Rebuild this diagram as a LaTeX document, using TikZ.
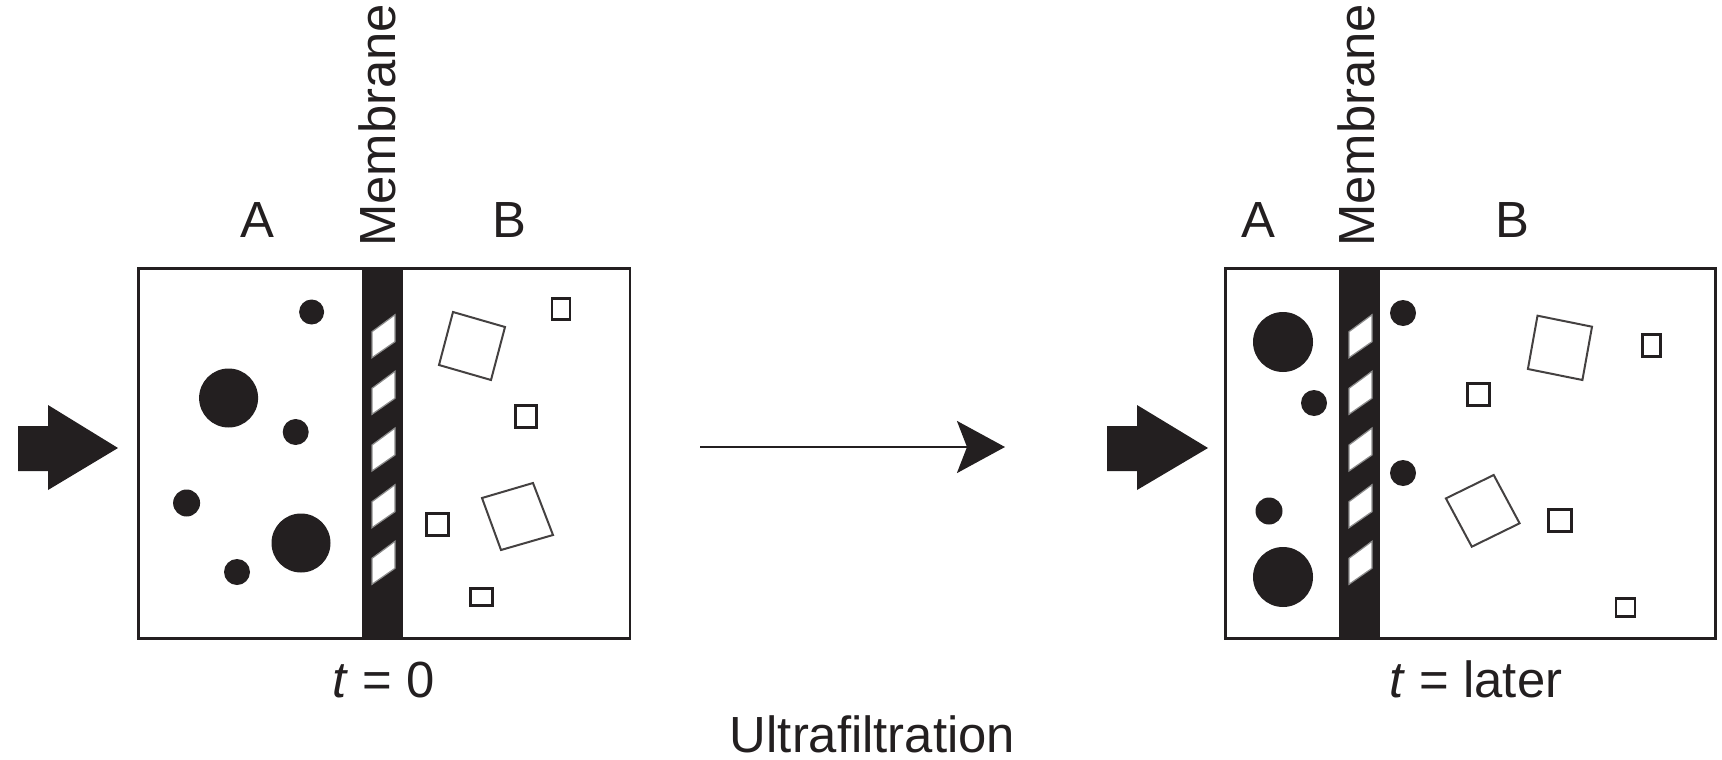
\documentclass[tikz,border=0pt]{standalone}
\usepackage{fontspec}
\setmainfont{Liberation Sans}
\usetikzlibrary{arrows.meta}
\definecolor{ink}{HTML}{231F20}
\begin{document}
\begin{tikzpicture}[x=1bp,y=-1bp,
  lbl/.style={font=\fontsize{51}{60}\selectfont, text=ink, inner sep=0pt, anchor=base},
  boxnode/.style={draw=ink, line width=2.7bp, inner sep=0pt, minimum height=370bp},
  memb/.style={fill=ink},
  pore/.style={fill=white, draw=black!45, line width=1.2bp},
  particle/.style={fill=ink},
  sml/.style={draw=ink, line width=2.8bp},
  rsq/.style={draw=ink!85, line width=2bp, line join=miter},
  fatarrow/.style={fill=ink},
  thinarrow/.style={draw=ink, line width=2.7bp, -{Stealth[length=48bp, width=52bp, inset=10bp]}},
]
\useasboundingbox (0,0) rectangle (1722,760);

% ---------- left panel (t = 0) ----------
\node[boxnode, minimum width=491.6bp] (boxL) at (384.2,453.7) {};
\fill[memb] (362,267.3) rectangle (403,640.1);
\foreach \c in {336.7,393.3,450,506.7,563.3}{
  \filldraw[pore] (372,\c+21) -- (372,\c-5) -- (395,\c-22) -- (395,\c+5) -- cycle;
}
\fill[fatarrow] (18,426) -- (48,426) -- (48,405) -- (118,448) -- (48,490) -- (48,471) -- (18,471) -- cycle;

\fill[particle] (311.6,312) circle (12.5);
\fill[particle] (228.6,398) circle (29.5);
\fill[particle] (295.7,432) circle (13);
\fill[particle] (186.6,503) circle (13.5);
\fill[particle] (301,543) circle (29.5);
\fill[particle] (237,572) circle (13);

\draw[rsq] (453,312) -- (505,327) -- (491,380) -- (439,365) -- cycle;
\draw[rsq] (482,498) -- (533,483) -- (553,535) -- (501,550) -- cycle;
\draw[sml] (552,298.5) rectangle (570,319.5);
\draw[sml] (515.5,405.5) rectangle (536.5,427.5);
\draw[sml] (426.5,513.5) rectangle (448.5,535.5);
\draw[sml] (470.5,588.5) rectangle (492.5,605.5);

\node[lbl] (labAL) at (257,237) {A};
\node[lbl] (labBL) at (509,237) {B};
\node[lbl, rotate=90, anchor=base west] (labML) at (395,247) {Membrane};
\node[lbl] (labT0) at (384,697) {\textit{t} = 0};

% ---------- right panel (t = later) ----------
\node[boxnode, minimum width=489.5bp] (boxR) at (1470.5,453.7) {};
\fill[memb] (1339,267.3) rectangle (1380,640.1);
\foreach \c in {336.7,393.3,450,506.7,563.3}{
  \filldraw[pore] (1349,\c+21) -- (1349,\c-5) -- (1372,\c-22) -- (1372,\c+5) -- cycle;
}
\fill[fatarrow] (1107,426) -- (1137,426) -- (1137,405) -- (1208,448) -- (1137,490) -- (1137,471) -- (1107,471) -- cycle;

\fill[particle] (1283,342) circle (30);
\fill[particle] (1314,403) circle (13);
\fill[particle] (1269,511) circle (13.5);
\fill[particle] (1283,577) circle (30);
\fill[particle] (1403,313) circle (13);
\fill[particle] (1403,473) circle (13);

\draw[rsq] (1537.5,315.7) -- (1592,326.7) -- (1582.4,380) -- (1527.9,369) -- cycle;
\draw[rsq] (1493.7,475) -- (1519.6,523.3) -- (1471.8,546.7) -- (1445.9,498.4) -- cycle;
\draw[sml] (1642.5,334.5) rectangle (1660.5,356.5);
\draw[sml] (1467.5,383.5) rectangle (1489.5,405.5);
\draw[sml] (1548.5,509.5) rectangle (1571.5,531.5);
\draw[sml] (1616,598.5) rectangle (1635,616.5);

\node[lbl] (labAR) at (1258,237) {A};
\node[lbl] (labBR) at (1512.5,237) {B};
\node[lbl, rotate=90, anchor=base west] (labMR) at (1374,247) {Membrane};
\node[lbl] (labTL) at (1476,697) {\textit{t} = later};

% ---------- process arrow ----------
\coordinate (arrS) at (700,447);
\coordinate (arrE) at (1005,447);
\draw[thinarrow] (arrS) -- (arrE);
\node[lbl] (labUF) at (872.5,752) {Ultrafiltration};
\end{tikzpicture}
\end{document}
